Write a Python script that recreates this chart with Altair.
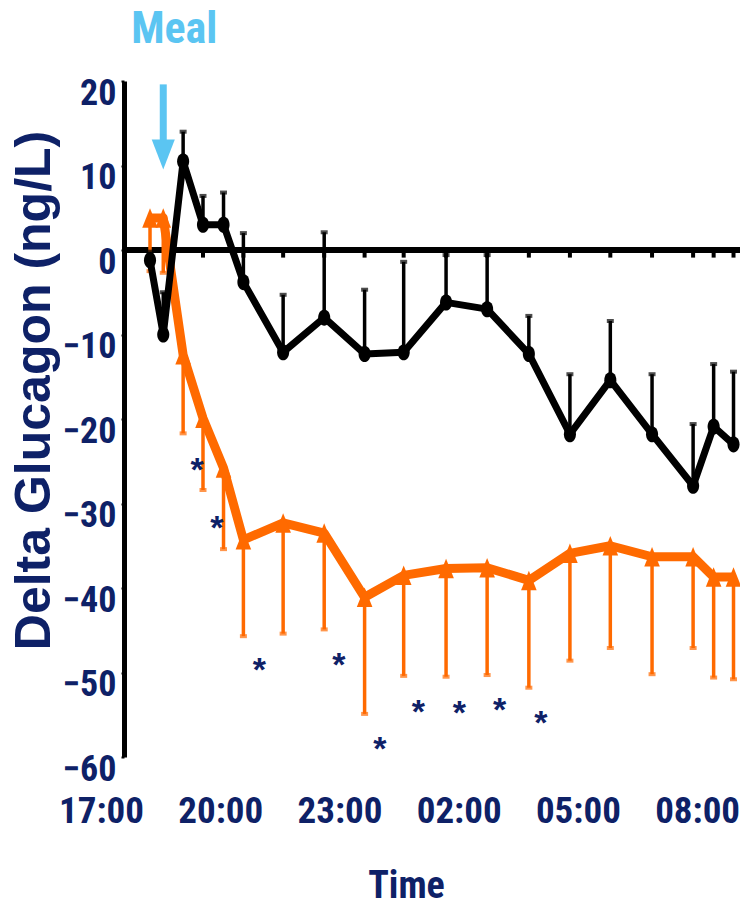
import altair as alt
import pandas as pd

# Sampling times (clock time, evening of day 1 through morning of day 2)
times = ["18:14", "18:34", "19:04", "19:34", "20:05", "20:35", "21:35", "22:37",
         "23:38", "00:37", "01:41", "02:43", "03:46", "04:48", "05:49", "06:52",
         "07:54", "08:25", "08:55"]

# Black series: mean change and upper error limit
black_mean = [-1.2, -10.0, 10.5, 3.0, 3.0, -3.8, -12.1, -8.0, -12.3, -12.1,
              -6.2, -7.0, -12.3, -21.8, -15.4, -21.8, -27.9, -20.9, -23.0]
black_upper = [-0.2, -5.0, 14.0, 6.4, 6.8, 2.0, -5.3, 2.1, -4.7, -1.4,
               -0.6, -0.6, -7.8, -14.7, -8.4, -14.7, -20.6, -13.5, -14.4]

# Orange series: mean change and lower error limit
orange_mean = [3.8, 3.8, -12.4, -19.9, -25.8, -34.3, -32.3, -33.5, -41.1, -38.5,
               -37.7, -37.6, -39.1, -35.9, -35.0, -36.3, -36.3, -38.7, -38.7]
orange_lower = [-2.5, -2.7, -21.7, -28.4, -35.4, -45.7, -45.4, -44.9, -54.9, -50.4,
                -50.5, -50.3, -51.8, -48.6, -47.1, -50.2, -47.1, -50.6, -50.8]

# Significance markers (clock time, value)
star_times = ["19:25", "19:55", "20:59", "22:59", "00:01", "00:59", "02:01", "03:02", "04:04"]
star_values = [-25.2, -32.1, -48.9, -48.3, -58.2, -53.8, -54.0, -53.6, -55.1]

# Axis ticks
tick_hours = [0, 3, 6, 9, 12, 15]
tick_labels = ["17:00", "20:00", "23:00", "02:00", "05:00", "08:00"]
y_ticks = [20, 10, 0, -10, -20, -30, -40, -50, -60]

meal_time = "18:34"

NAVY = "#0E2167"
ORANGE = "#FF6A00"
SKY = "#5BC5F2"
FONT = "Liberation Sans Narrow, Roboto Condensed, Liberation Sans, sans-serif"


def hours_since_17(t):
    h, m = (int(p) for p in t.split(":"))
    v = h + m / 60.0 - 17.0
    return v + 24.0 if v < 0 else v


x_all = [hours_since_17(t) for t in times]
df = pd.DataFrame({
    "t": x_all,
    "black": black_mean,
    "black_hi": black_upper,
    "orange": orange_mean,
    "orange_lo": orange_lower,
})
stars = pd.DataFrame({"t": [hours_since_17(t) for t in star_times], "v": star_values})
# hourly ticks hanging under the zero line
zt = pd.DataFrame({"t": [x_all[3]] + x_all[5:]})

X_MAX = 16.08
xs = alt.Scale(domain=[0, X_MAX], nice=False, zero=False)
ys = alt.Scale(domain=[-60, 20], nice=False, zero=False)

label_expr = "[" + ",".join(f"'{s}'" for s in tick_labels) + "][round(datum.value / 3)]"

x_axis = alt.Axis(
    values=tick_hours, labelExpr=label_expr, domain=False, ticks=False, grid=False,
    labelFont=FONT, labelFontSize=37, labelFontWeight="bold", labelColor=NAVY,
    labelPadding=36, labelFlush=False, labelOverlap=False, labelBaseline="top",
    title="Time", titleFont=FONT, titleFontSize=38, titleFontWeight="bold",
    titleColor=NAVY, titlePadding=38, titleX=305)

y_axis = alt.Axis(
    values=y_ticks, offset=-23, grid=False, domain=True, domainColor="black", domainWidth=5,
    tickColor="black", tickSize=3, tickWidth=2,
    labelFont=FONT, labelFontSize=36, labelFontWeight="bold", labelColor=NAVY,
    labelPadding=5, labelOffset=12, labelFlush=False, labelOverlap=False,
    title="Delta Glucagon (ng/L)", titleFont="Liberation Sans, sans-serif",
    titleFontSize=50, titleFontWeight="bold", titleColor=NAVY,
    titleX=-90, titleY=309, titleAngle=-90, titleBaseline="middle")

base = alt.Chart(df)

zero_line = alt.Chart(pd.DataFrame({"a": [x_all[0] - 0.62], "b": [X_MAX], "v": [0]})).mark_rule(
    color="black", strokeWidth=6).encode(
    x=alt.X("a:Q", scale=xs, axis=x_axis), x2="b:Q",
    y=alt.Y("v:Q", scale=ys, axis=y_axis))

zero_ticks = alt.Chart(zt).mark_rule(color="black", strokeWidth=4).encode(
    x=alt.X("t:Q", scale=xs), y=alt.datum(0), y2=alt.datum(-0.9))

orange_err = base.mark_rule(color=ORANGE, strokeWidth=3.5).encode(
    x=alt.X("t:Q", scale=xs), y=alt.Y("orange:Q", scale=ys), y2="orange_lo:Q")
orange_cap = base.mark_tick(color=ORANGE, orient="horizontal", size=7, thickness=4).encode(
    x=alt.X("t:Q", scale=xs), y=alt.Y("orange_lo:Q", scale=ys))
orange_line = base.mark_line(color=ORANGE, strokeWidth=9, strokeJoin="round").encode(
    x=alt.X("t:Q", scale=xs), y=alt.Y("orange:Q", scale=ys))
orange_pts = base.mark_point(shape="M-0.8,1L0.8,1L0,-1Z", filled=True, color=ORANGE,
                             size=380, opacity=1).encode(
    x=alt.X("t:Q", scale=xs), y=alt.Y("orange:Q", scale=ys))

black_err = base.mark_rule(color="black", strokeWidth=3.5).encode(
    x=alt.X("t:Q", scale=xs), y=alt.Y("black:Q", scale=ys), y2="black_hi:Q")
black_cap = base.mark_tick(color="black", orient="horizontal", size=7, thickness=4).encode(
    x=alt.X("t:Q", scale=xs), y=alt.Y("black_hi:Q", scale=ys))
black_line = base.mark_line(color="black", strokeWidth=7, strokeJoin="round").encode(
    x=alt.X("t:Q", scale=xs), y=alt.Y("black:Q", scale=ys))
black_pts = base.mark_point(shape="M-0.75,0A0.75,1,0,1,0,0.75,0A0.75,1,0,1,0,-0.75,0Z",
                            filled=True, color="black", size=260, opacity=1).encode(
    x=alt.X("t:Q", scale=xs), y=alt.Y("black:Q", scale=ys))

star_marks = alt.Chart(stars).mark_text(
    text="*", font="Liberation Sans, sans-serif", fontSize=34, fontWeight="bold",
    color=NAVY, baseline="middle", dy=8).encode(
    x=alt.X("t:Q", scale=xs), y=alt.Y("v:Q", scale=ys))

meal_t = hours_since_17(meal_time)
meal_df = pd.DataFrame({"t": [meal_t]})
arrow_shaft = alt.Chart(meal_df).mark_rule(color=SKY, strokeWidth=7).encode(
    x=alt.X("t:Q", scale=xs), y=alt.datum(19.6), y2=alt.datum(12.5))
arrow_head = alt.Chart(meal_df).mark_point(
    shape="M-0.77,-1L0.77,-1L0,1Z", filled=True, color=SKY, size=900, opacity=1).encode(
    x=alt.X("t:Q", scale=xs), y=alt.datum(11.3))
meal_text = alt.Chart(meal_df).mark_text(
    text="Meal", font=FONT, fontSize=44, fontWeight="bold", color=SKY,
    baseline="middle", dx=11).encode(
    x=alt.X("t:Q", scale=xs), y=alt.datum(26.0))

chart = alt.layer(
    zero_line, zero_ticks,
    orange_err, orange_cap, orange_line, orange_pts,
    black_err, black_cap, black_line, black_pts,
    star_marks, arrow_shaft, arrow_head, meal_text,
).properties(
    width=639, height=676,
    padding={"left": 101, "top": 81, "right": 0, "bottom": 150},
    autosize=alt.AutoSizeParams(type="none"),
    background="white",
).configure_view(stroke=None).configure_axis(grid=False)

chart.save("out.html", embed_options={"renderer": "svg", "actions": False})
